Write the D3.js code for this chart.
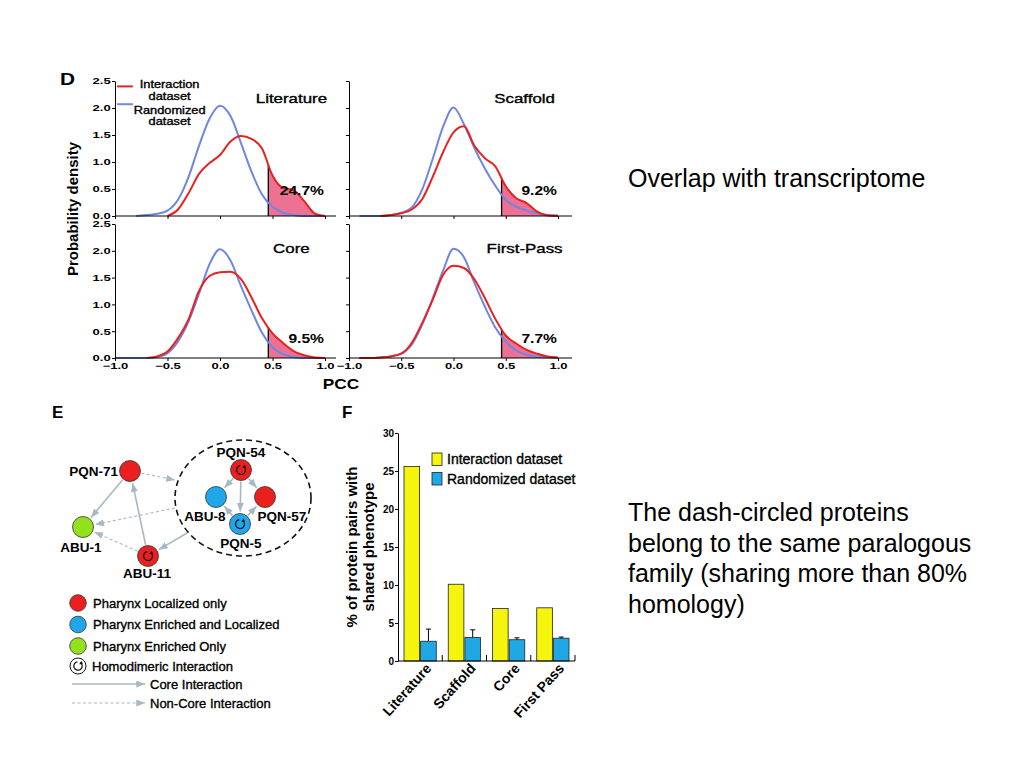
<!DOCTYPE html>
<html>
<head>
<meta charset="utf-8">
<script src="https://d3js.org/d3.v7.min.js"></script>
<style>
  body, html { margin: 0; background: #fff; }
  svg { font-family: "Liberation Sans", Arial, Helvetica, sans-serif; }
  .heavy { stroke: #000; stroke-width: 0.35px; }
</style>
</head>
<body>
<svg id="slide" width="1024" height="768"></svg>
<script>
// ---- panel D: PCC density curves ----
var pcc = [-1.0, -0.9, -0.8, -0.7, -0.6, -0.5, -0.4, -0.3, -0.2, -0.1, 0.0, 0.1, 0.2, 0.3, 0.4, 0.5, 0.6, 0.7, 0.8, 0.9, 1.0];
var densityTicks = [0, 0.5, 1.0, 1.5, 2.0, 2.5];
var pccTicks = [-1.0, -0.5, 0.0, 0.5, 1.0];
var datasets = ["Literature", "Scaffold", "Core", "First-Pass"];
var tailPct = ["24.7%", "9.2%", "9.5%", "7.7%"];
var pccCutoff = 0.46;

var litRandom       = [null, null, 0.00, 0.02, 0.04, 0.10, 0.30, 0.72, 1.30, 1.80, 2.04, 1.85, 1.35, 0.82, 0.40, 0.17, 0.06, 0.02, 0.00, 0.00, 0.00];
var litInteraction  = [null, null, null, null, null, 0.00, 0.12, 0.42, 0.78, 0.98, 1.13, 1.38, 1.48, 1.43, 1.25, 0.75, 0.52, 0.48, 0.28, 0.05, 0.00];
var scafRandom      = [null, 0.00, 0.00, 0.00, 0.02, 0.06, 0.16, 0.49, 1.05, 1.65, 2.01, 1.70, 1.26, 0.88, 0.56, 0.30, 0.17, 0.10, 0.05, 0.02, 0.01];
var scafInteraction = [null, null, null, 0.00, 0.02, 0.05, 0.12, 0.31, 0.72, 1.18, 1.55, 1.66, 1.30, 1.07, 0.92, 0.55, 0.33, 0.24, 0.08, 0.01, 0.00];
var coreRandom      = [0.00, 0.00, 0.00, 0.00, 0.02, 0.09, 0.31, 0.68, 1.20, 1.75, 2.03, 1.82, 1.34, 0.89, 0.47, 0.20, 0.07, 0.02, 0.00, 0.00, 0.00];
var coreInteraction = [null, null, null, 0.00, 0.03, 0.12, 0.37, 0.72, 1.25, 1.53, 1.60, 1.61, 1.47, 1.13, 0.74, 0.46, 0.28, 0.13, 0.05, 0.01, 0.00];
var fpRandom        = [null, 0.00, 0.00, 0.01, 0.03, 0.08, 0.25, 0.62, 1.11, 1.63, 2.04, 1.88, 1.40, 0.96, 0.57, 0.31, 0.14, 0.06, 0.02, 0.01, 0.00];
var fpInteraction   = [null, 0.00, 0.00, 0.01, 0.03, 0.08, 0.28, 0.65, 1.08, 1.55, 1.72, 1.68, 1.47, 1.12, 0.73, 0.42, 0.27, 0.15, 0.08, 0.03, 0.01];

// ---- panel E: network ----
var proteins = ["PQN-71", "ABU-1", "ABU-11", "PQN-54", "ABU-8", "PQN-57", "PQN-5"];
var proteinClass = ["localized", "enriched", "localized", "localized", "both", "localized", "both"];
var homodimeric = ["ABU-11", "PQN-54", "PQN-5"];
var coreLinks = [["PQN-71", "ABU-1"], ["ABU-11", "PQN-71"], ["family", "ABU-11"], ["PQN-54", "ABU-8"],
                 ["PQN-54", "PQN-57"], ["PQN-54", "PQN-5"], ["PQN-5", "ABU-8"], ["PQN-5", "PQN-57"]];
var nonCoreLinks = [["PQN-71", "family"], ["family", "ABU-1"], ["ABU-11", "ABU-1"]];
var classLegend = ["Pharynx Localized only", "Pharynx Enriched and Localized", "Pharynx Enriched Only"];
var legendClasses = ["localized", "both", "enriched"];

// ---- panel F: shared phenotype ----
var barGroups = ["Literature", "Scaffold", "Core", "First Pass"];
var barSeries = ["Interaction dataset", "Randomized dataset"];
var interactionPct = [25.6, 10.1, 6.9, 7.0];
var randomizedPct = [2.6, 3.1, 2.8, 3.0];
var randomizedErr = [1.6, 1.0, 0.25, 0.15];
var pctTicks = [0, 5, 10, 15, 20, 25, 30];

var svg = d3.select("#slide");
var FONT = "Liberation Sans, Arial, Helvetica, sans-serif";

// ================= panel D =================
var cols = [{lo: 115, hi: 325, end: 336}, {lo: 349, hi: 558, end: 572}];
var rows = [{base: 216, top: 81}, {base: 358, top: 224}];
var series = [[litRandom, litInteraction], [scafRandom, scafInteraction],
              [coreRandom, coreInteraction], [fpRandom, fpInteraction]];
var redLine = "#e8231f", blueLine = "#6f86e2", tailFill = "#ec7193";

datasets.forEach(function(name, i) {
  var c = cols[i % 2], r = rows[Math.floor(i / 2)];
  var x = d3.scaleLinear().domain([-1, 1]).range([c.lo, c.hi]);
  var y = d3.scaleLinear().domain([0, 2.5]).range([r.base, r.top]);
  var g = svg.append("g");
  var rand = series[i][0], inter = series[i][1];
  function pts(arr) { return pcc.map(function(p, k) { return {p: p, v: arr[k]}; }); }
  var line = d3.line().defined(d => d.v != null).x(d => x(d.p)).y(d => y(d.v)).curve(d3.curveMonotoneX);
  var area = d3.area().defined(d => d.v != null).x(d => x(d.p)).y0(y(0)).y1(d => y(d.v)).curve(d3.curveMonotoneX);

  g.append("clipPath").attr("id", "tail" + i)
    .append("rect").attr("x", x(pccCutoff)).attr("y", r.top)
    .attr("width", c.end - x(pccCutoff)).attr("height", r.base - r.top);
  g.append("path").datum(pts(inter)).attr("d", area)
    .attr("fill", tailFill).attr("clip-path", "url(#tail" + i + ")");

  var k = d3.bisectLeft(pcc, pccCutoff);
  var t = (pccCutoff - pcc[k - 1]) / (pcc[k] - pcc[k - 1]);
  var vCut = inter[k - 1] + t * (inter[k] - inter[k - 1]);
  g.append("line").attr("x1", x(pccCutoff)).attr("x2", x(pccCutoff))
    .attr("y1", y(0)).attr("y2", y(vCut)).attr("stroke", "#000").attr("stroke-width", 1.3);

  g.append("path").datum(pts(rand)).attr("d", line)
    .attr("fill", "none").attr("stroke", blueLine).attr("stroke-width", 2);
  g.append("path").datum(pts(inter)).attr("d", line)
    .attr("fill", "none").attr("stroke", redLine).attr("stroke-width", 2);

  // axes
  var yAx = d3.axisLeft(y).tickValues(densityTicks).tickSize(3).tickSizeOuter(0).tickPadding(0)
    .tickFormat(i % 2 === 0 ? d3.format(".1f") : "");
  var ga = g.append("g").attr("transform", "translate(" + x(-1) + ",0)").call(yAx);
  var xAx = d3.axisBottom(x).tickValues(pccTicks).tickSize(3).tickSizeOuter(0).tickPadding(1.5)
    .tickFormat(i >= 2 ? d3.format(".1f") : "");
  var gb = g.append("g").attr("transform", "translate(0," + y(0) + ")").call(xAx);
  gb.select(".domain").remove();
  gb.append("line").attr("x1", x(-1)).attr("x2", c.end).attr("stroke", "#000");
  [ga, gb].forEach(function(a) {
    a.attr("font-family", FONT).attr("font-size", 9).attr("font-weight", "bold");
    a.selectAll("text").attr("fill", "#000").attr("transform", "scale(1.45,1)");
  });

  g.append("text")
    .attr("transform", "translate(" + x(0.68) + "," + y(i < 2 ? 2.1 : 1.96) + ") scale(1.3,1)")
    .attr("text-anchor", "middle").attr("font-size", 13).attr("class", "heavy").text(name);
  g.append("text")
    .attr("transform", "translate(" + x(0.99) + "," + y(i < 2 ? 0.39 : 0.28) + ") scale(1.2,1)")
    .attr("text-anchor", "end").attr("font-size", 13).attr("font-weight", "bold").text(tailPct[i]);

  if (i === 0) {
    var lg = [{label: ["Interaction", "dataset"], color: redLine, v: 2.4, dy: 2},
              {label: ["Randomized", "dataset"], color: blueLine, v: 2.07, dy: 9.5}];
    lg.forEach(function(d) {
      g.append("line").attr("x1", x(-0.98)).attr("x2", x(-0.83)).attr("y1", y(d.v)).attr("y2", y(d.v))
        .attr("stroke", d.color).attr("stroke-width", 2);
      d.label.forEach(function(s, j) {
        g.append("text")
          .attr("transform", "translate(" + x(-0.48) + "," + (y(d.v) + d.dy + j * 11.5) + ") scale(1.22,1)")
          .attr("text-anchor", "middle").attr("font-size", 10.5).attr("class", "heavy").text(s);
      });
    });
  }
});

svg.append("text").attr("transform", "translate(60,85) scale(1.3,1)")
  .attr("font-size", 16).attr("font-weight", "bold").text("D");
svg.append("text").attr("transform", "translate(78,209) rotate(-90)")
  .attr("text-anchor", "middle").attr("font-size", 15).attr("font-weight", "bold").text("Probability density");
svg.append("text").attr("transform", "translate(341,389) scale(1.15,1)")
  .attr("text-anchor", "middle").attr("font-size", 15).attr("font-weight", "bold").text("PCC");

// ================= panel E =================
var ex = d3.scaleLinear().domain([0, 270]).range([50, 320]);
var ey = d3.scaleLinear().domain([0, 320]).range([400, 720]);
var nodeLayout = {"PQN-71": [80, 71], "ABU-1": [33, 127], "ABU-11": [98, 156], "PQN-54": [191, 70],
                  "ABU-8": [166, 97], "PQN-57": [215, 97], "PQN-5": [190, 124]};
// where links to / from the paralogous family touch the dashed ring
var familyPorts = {"PQN-71": [125, 80], "ABU-1": [125, 108], "ABU-11": [137, 133]};
var labelLayout = {"PQN-71": [68, 76, "end"], "ABU-1": [31, 152, "middle"], "ABU-11": [97, 178, "middle"],
                   "PQN-54": [191, 57, "middle"], "ABU-8": [155, 121, "middle"], "PQN-57": [232, 121, "middle"],
                   "PQN-5": [191, 148, "middle"]};
var nodeR = 10.5;
var classColor = {localized: "#ea1f1f", both: "#1fa7ea", enriched: "#93e01f"};
var linkColor = "#a7b8c3";

var defs = svg.append("defs");
defs.append("marker").attr("id", "arrow").attr("viewBox", "0 0 10 8")
  .attr("refX", 10).attr("refY", 4).attr("markerWidth", 9).attr("markerHeight", 7)
  .attr("markerUnits", "userSpaceOnUse").attr("orient", "auto")
  .append("path").attr("d", "M0,0L10,4L0,8Z").attr("fill", linkColor);

var E = svg.append("g");
E.append("text").attr("x", ex(2)).attr("y", ey(18)).attr("font-size", 17).attr("font-weight", "bold").text("E");

E.append("ellipse").attr("cx", ex(193)).attr("cy", ey(98)).attr("rx", 68).attr("ry", 58)
  .attr("fill", "none").attr("stroke", "#111").attr("stroke-width", 1.6).attr("stroke-dasharray", "6,4");

function linkEnds(l) {
  var s = l[0] === "family" ? familyPorts[l[1]] : nodeLayout[l[0]];
  var t = l[1] === "family" ? familyPorts[l[0]] : nodeLayout[l[1]];
  var dx = t[0] - s[0], dy = t[1] - s[1], len = Math.sqrt(dx * dx + dy * dy);
  var s0 = l[0] === "family" ? 0 : nodeR + 1, t0 = l[1] === "family" ? 0 : nodeR + 2;
  return [s[0] + dx * s0 / len, s[1] + dy * s0 / len, t[0] - dx * t0 / len, t[1] - dy * t0 / len];
}
function drawLinks(list, dashed) {
  E.selectAll(null).data(list).enter().append("line")
    .each(function(l) {
      var e = linkEnds(l);
      d3.select(this).attr("x1", ex(e[0])).attr("y1", ey(e[1])).attr("x2", ex(e[2])).attr("y2", ey(e[3]));
    })
    .attr("stroke", linkColor).attr("stroke-width", dashed ? 1.1 : 1.6)
    .attr("stroke-dasharray", dashed ? "3,2.5" : null)
    .attr("marker-end", "url(#arrow)");
}
drawLinks(coreLinks, false);
drawLinks(nonCoreLinks, true);

function loopGlyph(sel, r) {
  sel.append("path")
    .attr("d", d3.arc()({innerRadius: r - 0.6, outerRadius: r + 0.6, startAngle: 0.6, endAngle: 2 * Math.PI - 0.15}))
    .attr("fill", "#111");
  var a = 0.6, px = r * Math.sin(a), py = -r * Math.cos(a);
  var tx = -Math.cos(a), ty = -Math.sin(a), nx = Math.sin(a), ny = -Math.cos(a);
  sel.append("path")
    .attr("d", "M" + (px + nx * 2.2) + "," + (py + ny * 2.2) + "L" + (px - nx * 2.2) + "," + (py - ny * 2.2) +
               "L" + (px - tx * 2.8) + "," + (py - ty * 2.8) + "Z")
    .attr("fill", "#111");
}

proteins.forEach(function(p, i) {
  var pos = nodeLayout[p];
  var ng = E.append("g").attr("transform", "translate(" + ex(pos[0]) + "," + ey(pos[1]) + ")");
  ng.append("circle").attr("r", nodeR).attr("fill", classColor[proteinClass[i]])
    .attr("stroke", "#333").attr("stroke-width", 0.8);
  if (homodimeric.indexOf(p) >= 0) loopGlyph(ng, 4.5);
  var lp = labelLayout[p];
  E.append("text").attr("x", ex(lp[0])).attr("y", ey(lp[1])).attr("text-anchor", lp[2])
    .attr("font-size", 13.5).attr("font-weight", "bold").text(p);
});

// legend
classLegend.forEach(function(s, i) {
  var yy = ey(203 + i * 21.5);
  E.append("circle").attr("cx", ex(28)).attr("cy", yy).attr("r", 8.3)
    .attr("fill", classColor[legendClasses[i]]).attr("stroke", "#333").attr("stroke-width", 0.8);
  E.append("text").attr("x", ex(43)).attr("y", yy + 4.5).attr("font-size", 13).attr("class", "heavy").text(s);
});
var hg = E.append("g").attr("transform", "translate(" + ex(28) + "," + ey(266) + ")");
hg.append("circle").attr("r", 8).attr("fill", "#fff").attr("stroke", "#111").attr("stroke-width", 1);
loopGlyph(hg, 4.2);
E.append("text").attr("x", ex(42)).attr("y", ey(266) + 4.5).attr("font-size", 13).attr("class", "heavy")
  .text("Homodimeric Interaction");
[{label: "Core Interaction", v: 284, dashed: false}, {label: "Non-Core Interaction", v: 303, dashed: true}]
  .forEach(function(d) {
    E.append("line").attr("x1", ex(22)).attr("x2", ex(95)).attr("y1", ey(d.v)).attr("y2", ey(d.v))
      .attr("stroke", linkColor).attr("stroke-width", d.dashed ? 1.1 : 1.6)
      .attr("stroke-dasharray", d.dashed ? "3,2.5" : null).attr("marker-end", "url(#arrow)");
    E.append("text").attr("x", ex(100)).attr("y", ey(d.v) + 4.5).attr("font-size", 13)
      .attr("class", "heavy").text(d.label);
  });

// ================= panel F =================
var F = svg.append("g");
var fx0 = d3.scaleBand().domain(barGroups).range([398, 575]);
var fx1 = d3.scaleBand().domain(barSeries).range([5, fx0.bandwidth() - 5]).padding(0.06);
var fy = d3.scaleLinear().domain([0, 30]).range([661, 433]);
var barColor = {"Interaction dataset": "#f4f40c", "Randomized dataset": "#20a8e4"};

F.append("text").attr("x", 342).attr("y", 418).attr("font-size", 17).attr("font-weight", "bold").text("F");

barGroups.forEach(function(grp, i) {
  var vals = [interactionPct[i], randomizedPct[i]];
  barSeries.forEach(function(s, j) {
    F.append("rect").attr("x", fx0(grp) + fx1(s)).attr("y", fy(vals[j]))
      .attr("width", fx1.bandwidth()).attr("height", fy(0) - fy(vals[j]))
      .attr("fill", barColor[s]).attr("stroke", "#222").attr("stroke-width", 0.8);
  });
  var cx = fx0(grp) + fx1("Randomized dataset") + fx1.bandwidth() / 2;
  var top = fy(randomizedPct[i] + randomizedErr[i]);
  F.append("line").attr("x1", cx).attr("x2", cx).attr("y1", fy(randomizedPct[i])).attr("y2", top)
    .attr("stroke", "#000").attr("stroke-width", 1);
  F.append("line").attr("x1", cx - 2.5).attr("x2", cx + 2.5).attr("y1", top).attr("y2", top)
    .attr("stroke", "#000").attr("stroke-width", 1);
});

var fyAx = F.append("g").attr("transform", "translate(398,0)")
  .call(d3.axisLeft(fy).tickValues(pctTicks).tickSize(3).tickSizeOuter(0).tickPadding(1));
fyAx.attr("font-family", FONT).attr("font-size", 10).attr("font-weight", "bold");
fyAx.selectAll("text").attr("fill", "#000");
F.append("line").attr("x1", 398).attr("x2", 575).attr("y1", fy(0)).attr("y2", fy(0)).attr("stroke", "#000");
F.selectAll(null).data(barGroups).enter().append("line")
  .attr("x1", d => fx0(d) + fx0.bandwidth()).attr("x2", d => fx0(d) + fx0.bandwidth())
  .attr("y1", fy(0)).attr("y2", fy(0) - 6).attr("stroke", "#000");
F.selectAll(null).data(barGroups).enter().append("text")
  .attr("transform", d => "translate(" + (fx0(d) + fx0.bandwidth() / 2 + 12) + "," + (fy(0) + 8) + ") rotate(-48)")
  .attr("text-anchor", "end").attr("font-size", 14).attr("font-weight", "bold").text(d => d);

["% of protein pairs with", "shared phenotype"].forEach(function(s, j) {
  F.append("text").attr("transform", "translate(" + (357 + j * 17) + ",547) rotate(-90)")
    .attr("text-anchor", "middle").attr("font-size", 15).attr("font-weight", "bold").text(s);
});

barSeries.forEach(function(s, j) {
  F.append("rect").attr("x", 432).attr("y", 453 + j * 19.5).attr("width", 10).attr("height", 12.5)
    .attr("fill", barColor[s]).attr("stroke", "#222").attr("stroke-width", 0.8);
  F.append("text").attr("x", 447).attr("y", 464 + j * 19.5).attr("font-size", 14).attr("class", "heavy").text(s);
});

// ================= slide text =================
svg.append("text").attr("x", 628).attr("y", 187).attr("font-size", 25).text("Overlap with transcriptome");
["The dash-circled proteins", "belong to the same paralogous", "family (sharing more than 80%", "homology)"]
  .forEach(function(s, i) {
    svg.append("text").attr("x", 628).attr("y", 521 + i * 30.5).attr("font-size", 25).text(s);
  });
</script>
</body>
</html>
